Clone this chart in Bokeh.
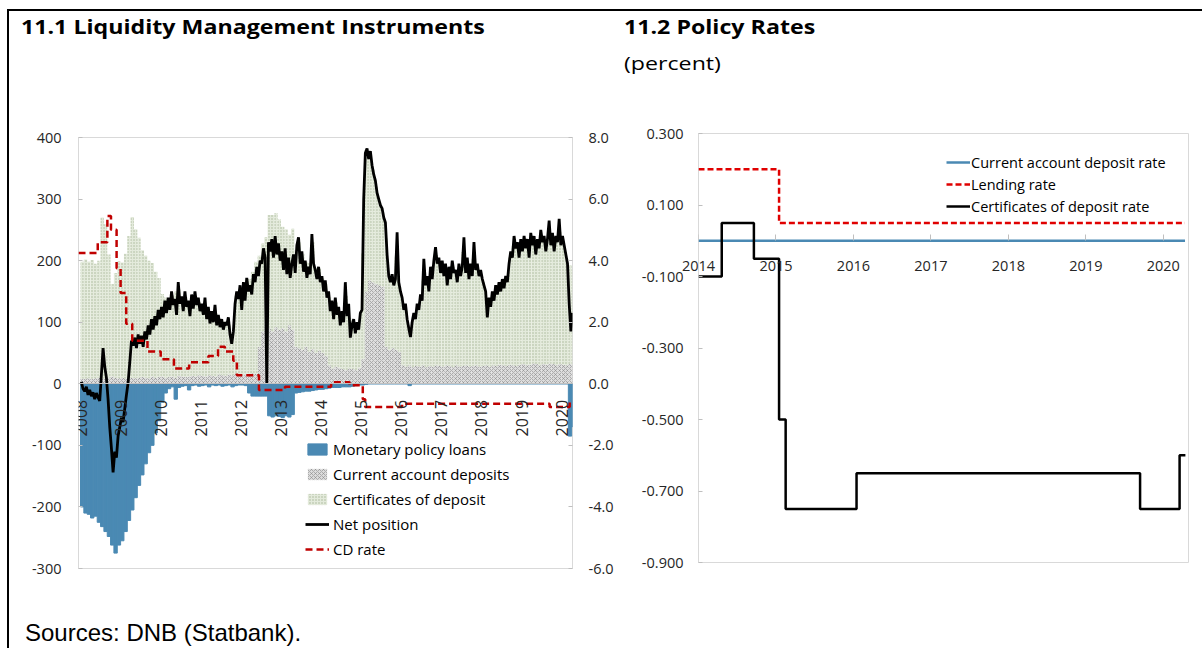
from math import pi
from bokeh.plotting import figure
from bokeh.models import (Range1d, LinearAxis, FixedTicker, Legend, LegendItem,
                          Div, ColumnDataSource, Label)
from bokeh.layouts import row, column
from bokeh.embed import file_html
from bokeh.resources import INLINE

# ------------------------------------------------------------------ data
# 11.1 Liquidity Management Instruments (DKK billion, left axis; percent, right axis)
years_left = [2008, 2009, 2010, 2011, 2012, 2013, 2014, 2015, 2016, 2017, 2018, 2019, 2020]
left_y_ticks = [-300, -200, -100, 0, 100, 200, 300, 400]
left_y_labels = ["-300", "-200", "-100", "0", "100", "200", "300", "400"]
right_y_ticks = [-6, -4, -2, 0, 2, 4, 6, 8]
right_y_labels = ["-6.0", "-4.0", "-2.0", "0.0", "2.0", "4.0", "6.0", "8.0"]

# monthly values, Jan 2008 - Apr 2020
loans = [
    -200, -210, -212, -218, -215, -225, -232, -240, -248, -262, -275, -262,   # 2008
    -255, -240, -222, -205, -185, -165, -148, -130, -112, -100, -80, -60,     # 2009
    -30, -15, -8, -5, -25, -6, -4, -3, -10, -3, -2, -4,                       # 2010
    -3, -2, -5, -2, -3, -2, -4, -3, -2, -5, -3, -2,                           # 2011
    -2, -3, -15, -20, -20, -20, -20, -20, -52, -54, -52, -53,                 # 2012
    -55, -52, -54, -50, -15, -14, -13, -12, -12, -11, -10, -9,                # 2013
    -9, -8, -7, -6, -6, -6, -5, -5, -5, -4, -3, -2,                           # 2014
    -2, -1, 0, 0, 0, 0, 0, 0, 0, 0, 0, 0,                                     # 2015
    0, 0, -3, 0, 0, 0, 0, 0, 0, 0, 0, 0,                                      # 2016
    0, 0, 0, 0, 0, 0, 0, 0, 0, 0, 0, 0,                                       # 2017
    0, 0, 0, 0, 0, 0, 0, 0, 0, 0, 0, 0,                                       # 2018
    0, 0, 0, 0, 0, 0, 0, 0, 0, 0, 0, 0,                                       # 2019
    0, 0, -85, -70,                                                           # 2020
]
ca_deposits = [
    8, 8, 9, 8, 9, 10, 8, 9, 10, 12, 10, 9,
    10, 8, 9, 10, 9, 10, 11, 10, 9, 12, 10, 11,
    12, 10, 11, 12, 10, 13, 12, 11, 12, 13, 12, 14,
    13, 12, 14, 13, 12, 15, 14, 13, 15, 14, 16, 15,
    14, 16, 15, 17, 16, 60, 85, 95, 90, 85, 92, 88,
    90, 85, 95, 88, 60, 58, 55, 60, 52, 56, 50, 54,
    50, 45, 30, 25, 28, 26, 24, 22, 25, 24, 22, 26,
    40, 150, 168, 165, 162, 160, 158, 60, 55, 58, 55, 52,
    30, 28, 30, 27, 29, 28, 30, 27, 29, 28, 30, 29,
    28, 30, 29, 27, 30, 28, 29, 30, 28, 29, 30, 28,
    29, 30, 28, 30, 29, 31, 30, 29, 31, 30, 29, 31,
    32, 30, 31, 33, 32, 30, 32, 31, 33, 32, 30, 32,
    31, 30, 32, 30,
]
certificates = [
    190, 194, 189, 193, 186, 190, 262, 250, 200, 150, 170, 190,
    187, 203, 231, 261, 242, 227, 206, 198, 191, 184, 172, 161,
    134, 130, 127, 132, 140, 140, 122, 129, 120, 123, 129, 119,
    111, 112, 103, 98, 103, 89, 87, 88, 81, 66, 127, 136,
    130, 141, 155, 165, 182, 148, 143, 143, 184, 189, 185, 179,
    165, 166, 147, 164, 157, 172, 156, 138, 144, 174, 138, 133,
    121, 117, 111, 101, 104, 90, 90, 121, 82, 80, 72, 78,
    172, 229, 204, 183, 158, 135, 120, 176, 115, 111, 153, 106,
    100, 90, 53, 81, 89, 105, 139, 141, 141, 157, 179, 164,
    160, 148, 151, 163, 145, 157, 185, 163, 155, 174, 160, 152,
    136, 99, 105, 113, 124, 127, 133, 141, 174, 193, 196, 189,
    196, 198, 194, 200, 191, 205, 203, 194, 212, 198, 205, 215,
    201, 173, 161, 155,
]
# net position, twice a month, Jan 2008 - early Apr 2020
net_position = [
    3, -8, -12, -5, -18, -10, -20, -14, -25, -15, -22, -28, 15, 58, 28, 10, -25, -70, -105, -144, -110, -120, -85, -70,
    -55, -62, -40, -18, 2, 35, 70, 62, 75, 58, 80, 65, 78, 60, 85, 72, 95, 80, 105, 88, 110, 95, 120, 105,
    125, 108, 135, 115, 140, 120, 150, 128, 138, 112, 165, 130, 142, 118, 150, 125, 135, 110, 145, 122, 150, 128, 140, 118,
    130, 112, 140, 105, 125, 98, 118, 100, 128, 95, 112, 92, 105, 88, 100, 95, 108, 80, 65, 85, 130, 150, 138, 160,
    120, 165, 135, 172, 150, 160, 145, 178, 165, 190, 175, 200, 195, 220, 205, 0, 230, 215, 235, 205, 240, 210, 228, 200,
    215, 185, 220, 178, 205, 172, 195, 210, 180, 225, 238, 195, 215, 182, 200, 172, 190, 178, 243, 195, 185, 170, 190, 165,
    175, 150, 168, 140, 150, 118, 135, 105, 140, 112, 125, 95, 118, 100, 165, 110, 130, 75, 95, 105, 82, 100, 88, 115,
    120, 300, 375, 382, 365, 378, 355, 340, 330, 310, 300, 290, 285, 270, 262, 210, 175, 165, 178, 160, 170, 246, 165, 150,
    140, 120, 130, 105, 90, 76, 100, 115, 105, 130, 120, 145, 135, 203, 160, 175, 150, 190, 170, 200, 222, 195, 205, 180,
    200, 175, 195, 160, 190, 170, 200, 180, 185, 165, 195, 175, 190, 238, 180, 205, 170, 195, 175, 230, 185, 195, 175, 185,
    170, 160, 150, 108, 140, 125, 150, 135, 160, 145, 165, 150, 170, 155, 175, 165, 195, 215, 205, 240, 220, 230, 205, 235,
    215, 240, 220, 235, 205, 245, 225, 240, 210, 235, 220, 250, 230, 240, 215, 235, 265, 225, 245, 215, 240, 230, 268, 225,
    240, 225, 210, 195, 130, 85, 115,
]
# CD rate (percent), dates of change
cd_rate_dates = [2007.95, 2008.43, 2008.67, 2008.76, 2008.9, 2009.0, 2009.14, 2009.29, 2009.67,
                 2010.0, 2010.33, 2010.71, 2011.19, 2011.43, 2011.6, 2011.81, 2011.9, 2012.45,
                 2013.1, 2014.25, 2014.71, 2015.04, 2015.1, 2016.02, 2019.7, 2020.2, 2020.27]
cd_rate = [4.25, 4.6, 5.45, 5.0, 3.75, 2.95, 1.95, 1.4, 1.05,
           0.8, 0.5, 0.7, 0.9, 1.2, 1.05, 0.75, 0.28, -0.2,
           -0.1, 0.05, -0.05, -0.5, -0.75, -0.65, -0.75, -0.6, -0.6]

# 11.2 Policy Rates (percent)
years_right = [2014, 2015, 2016, 2017, 2018, 2019, 2020]
rate_ticks = [0.3, 0.1, -0.1, -0.3, -0.5, -0.7, -0.9]
rate_labels = ["0.300", "0.100", "-0.100", "-0.300", "-0.500", "-0.700", "-0.900"]
ca_rate_dates = [2014.0, 2020.28]
ca_rate = [0.0, 0.0]
lending_dates = [2014.0, 2015.04, 2020.28]
lending_rate = [0.2, 0.05, 0.05]
cdr_dates = [2014.0, 2014.3, 2014.715, 2015.04, 2015.125, 2016.04, 2019.7, 2020.21, 2020.285]
cdr_rate = [-0.1, 0.05, -0.05, -0.5, -0.75, -0.65, -0.75, -0.6, -0.6]

# ------------------------------------------------------------------ styling
FONT = "Open Sans"
TXT = "#262626"
BLUE = "#4a89b3"
FRAME = "#d9d9d9"


def style_axis(ax, size="14.5px", standoff=15):
    ax.major_label_text_font = FONT
    ax.major_label_text_font_size = size
    ax.major_label_text_color = TXT
    ax.major_label_standoff = standoff
    ax.axis_line_color = None
    ax.major_tick_line_color = "#bfbfbf"
    ax.major_tick_in = 4
    ax.major_tick_out = 0
    ax.minor_tick_line_color = None


def zero_axis(ticks, tick_len, line_color):
    # axis crossing at zero (line and ticks only)
    ax = LinearAxis(fixed_location=0, ticker=FixedTicker(ticks=ticks),
                    major_label_overrides={t: "" for t in ticks})
    ax.major_label_text_font_size = "0px"
    ax.major_label_standoff = 0
    ax.axis_line_color = line_color
    ax.major_tick_line_color = "#bfbfbf" if tick_len else None
    ax.major_tick_in = tick_len
    ax.major_tick_out = 0
    ax.minor_tick_line_color = None
    return ax


# ------------------------------------------------------------------ chart 11.1
month_x = [2008 + (i + 0.5) / 12 for i in range(len(loans))]
half_x = [2008 + (j + 0.5) / 24 for j in range(len(net_position))]
src = ColumnDataSource(dict(x=month_x, loans=loans, ca=ca_deposits, cd=certificates))

p1 = figure(width=611, height=500, title=None,
            x_range=Range1d(2007.95, 2020.27), y_range=Range1d(-300, 400),
            x_axis_location=None, y_axis_location=None,
            min_border_left=69, min_border_right=48, min_border_top=37, min_border_bottom=32,
            output_backend="svg", toolbar_location=None)
p1.extra_y_ranges = {"rate": Range1d(-6, 8)}
p1.outline_line_color = FRAME
p1.grid.visible = False

yl = LinearAxis(ticker=FixedTicker(ticks=left_y_ticks),
                major_label_overrides=dict(zip(left_y_ticks, left_y_labels)))
style_axis(yl, standoff=17)
p1.add_layout(yl, "left")

yr = LinearAxis(y_range_name="rate", ticker=FixedTicker(ticks=right_y_ticks),
                major_label_overrides=dict(zip(right_y_ticks, right_y_labels)))
style_axis(yr, standoff=16)
p1.add_layout(yr, "right")

r_loans = p1.vbar(x="x", top=0, bottom="loans", width=1 / 12, source=src,
                  fill_color=BLUE, line_color=BLUE, line_width=1)
r_stack = p1.vbar_stack(["ca", "cd"], x="x", width=1 / 12, source=src,
                        fill_color=["#dcdcdc", "#e3eadb"], line_color=None,
                        hatch_pattern=["x", "."], hatch_color=["#8a8a8a", "#a7b597"],
                        hatch_scale=[4, 3], hatch_weight=[0.6, 1.0])
r_net = p1.line(half_x, net_position, line_color="black", line_width=2.8)
r_cd = p1.step(cd_rate_dates, cd_rate, mode="after", y_range_name="rate",
               line_color="#c00000", line_width=2.5, line_dash="7 4")

p1.add_layout(zero_axis(years_left, 0, "#bfbfbf"), "below")
for yv in years_left:
    p1.add_layout(Label(x=yv, y=0, text=str(yv), angle=pi / 2, text_align="right",
                        text_baseline="middle", y_offset=-16, text_font=FONT,
                        text_font_size="16px", text_color=TXT))

leg1 = Legend(items=[
    LegendItem(label="Monetary policy loans", renderers=[r_loans]),
    LegendItem(label="Current account deposits", renderers=[r_stack[0]]),
    LegendItem(label="Certificates of deposit", renderers=[r_stack[1]]),
    LegendItem(label="Net position", renderers=[r_net]),
    LegendItem(label="CD rate", renderers=[r_cd]),
], location=(227, 9), glyph_width=24, glyph_height=14, label_height=20, spacing=5,
    padding=0, margin=0, label_standoff=4, background_fill_alpha=0, border_line_alpha=0,
    label_text_font=FONT, label_text_font_size="15px", label_text_color="black")
p1.add_layout(leg1)

# ------------------------------------------------------------------ chart 11.2
p2 = figure(width=582, height=500, title=None,
            x_range=Range1d(2014.0, 2020.325), y_range=Range1d(-0.9, 0.3),
            x_axis_location=None, y_axis_location=None,
            min_border_left=78, min_border_right=14, min_border_top=33, min_border_bottom=38,
            output_backend="svg", toolbar_location=None)
p2.outline_line_color = FRAME
p2.grid.visible = False

ya2 = LinearAxis(ticker=FixedTicker(ticks=rate_ticks),
                 major_label_overrides=dict(zip(rate_ticks, rate_labels)))
style_axis(ya2, standoff=15)
p2.add_layout(ya2, "left")
p2.add_layout(zero_axis(years_right, 6, None), "below")

# year labels: a below axis whose labels are pulled up next to the zero line
xl2 = LinearAxis(ticker=FixedTicker(ticks=years_right))
style_axis(xl2, standoff=-302)
xl2.major_tick_line_color = None
xl2.major_tick_in = 0
p2.add_layout(xl2, "below")

r_car = p2.step(ca_rate_dates, ca_rate, mode="after", line_color=BLUE, line_width=2.5)
r_lend = p2.step(lending_dates, lending_rate, mode="after", line_color="#e00000",
                 line_width=2.5, line_dash="6 3")
r_cdr = p2.step(cdr_dates, cdr_rate, mode="after", line_color="black", line_width=2.5)

leg2 = Legend(items=[
    LegendItem(label="Current account deposit rate", renderers=[r_car]),
    LegendItem(label="Lending rate", renderers=[r_lend]),
    LegendItem(label="Certificates of deposit rate", renderers=[r_cdr]),
], location=(248, 346), glyph_width=24, glyph_height=20, label_height=20, spacing=2,
    padding=0, margin=0, label_standoff=1, background_fill_alpha=0, border_line_alpha=0,
    label_text_font=FONT, label_text_font_size="14.5px", label_text_color="black")
p2.add_layout(leg2)

# ------------------------------------------------------------------ page
W = 1193
title_css = ("position:absolute; white-space:nowrap; font-family:'Open Sans'; font-size:19px; "
             "line-height:19px; color:#000; transform:scaleX(1.22); transform-origin:left top;")
header = Div(width=W, height=91, margin=0, text=(
    f"<div style='position:relative; width:{W}px; height:91px; margin:0; padding:0;'>"
    f"<div style='position:absolute; left:0px; top:0px; width:{W}px; height:2px; background:#000;'></div>"
    f"<div style=\"{title_css} left:12px; top:9px; font-weight:bold;\">11.1 Liquidity Management Instruments</div>"
    f"<div style=\"{title_css} left:615px; top:9px; font-weight:bold;\">11.2 Policy Rates</div>"
    f"<div style=\"{title_css} left:615px; top:45px;\">(percent)</div>"
    "</div>"))
footer = Div(width=W, height=46, margin=0, styles={"overflow": "hidden"}, text=(
    f"<div style='position:relative; width:{W}px; height:46px; margin:0; padding:0;'>"
    "<div style=\"position:absolute; left:16px; top:21px; white-space:nowrap; "
    "font-family:'Liberation Sans'; font-size:24px; line-height:24px; color:#000;\">"
    "Sources: DNB (Statbank).</div></div>"))
left_bar = Div(width=2, height=639, margin=0,
               text="<div style='width:2px; height:639px; background:#000; margin:0;'></div>")

layout = row(left_bar, column(header, row(p1, column(p2)), footer), margin=(9, 0, 0, 7))

open("out.html", "w").write(file_html(layout, INLINE))
